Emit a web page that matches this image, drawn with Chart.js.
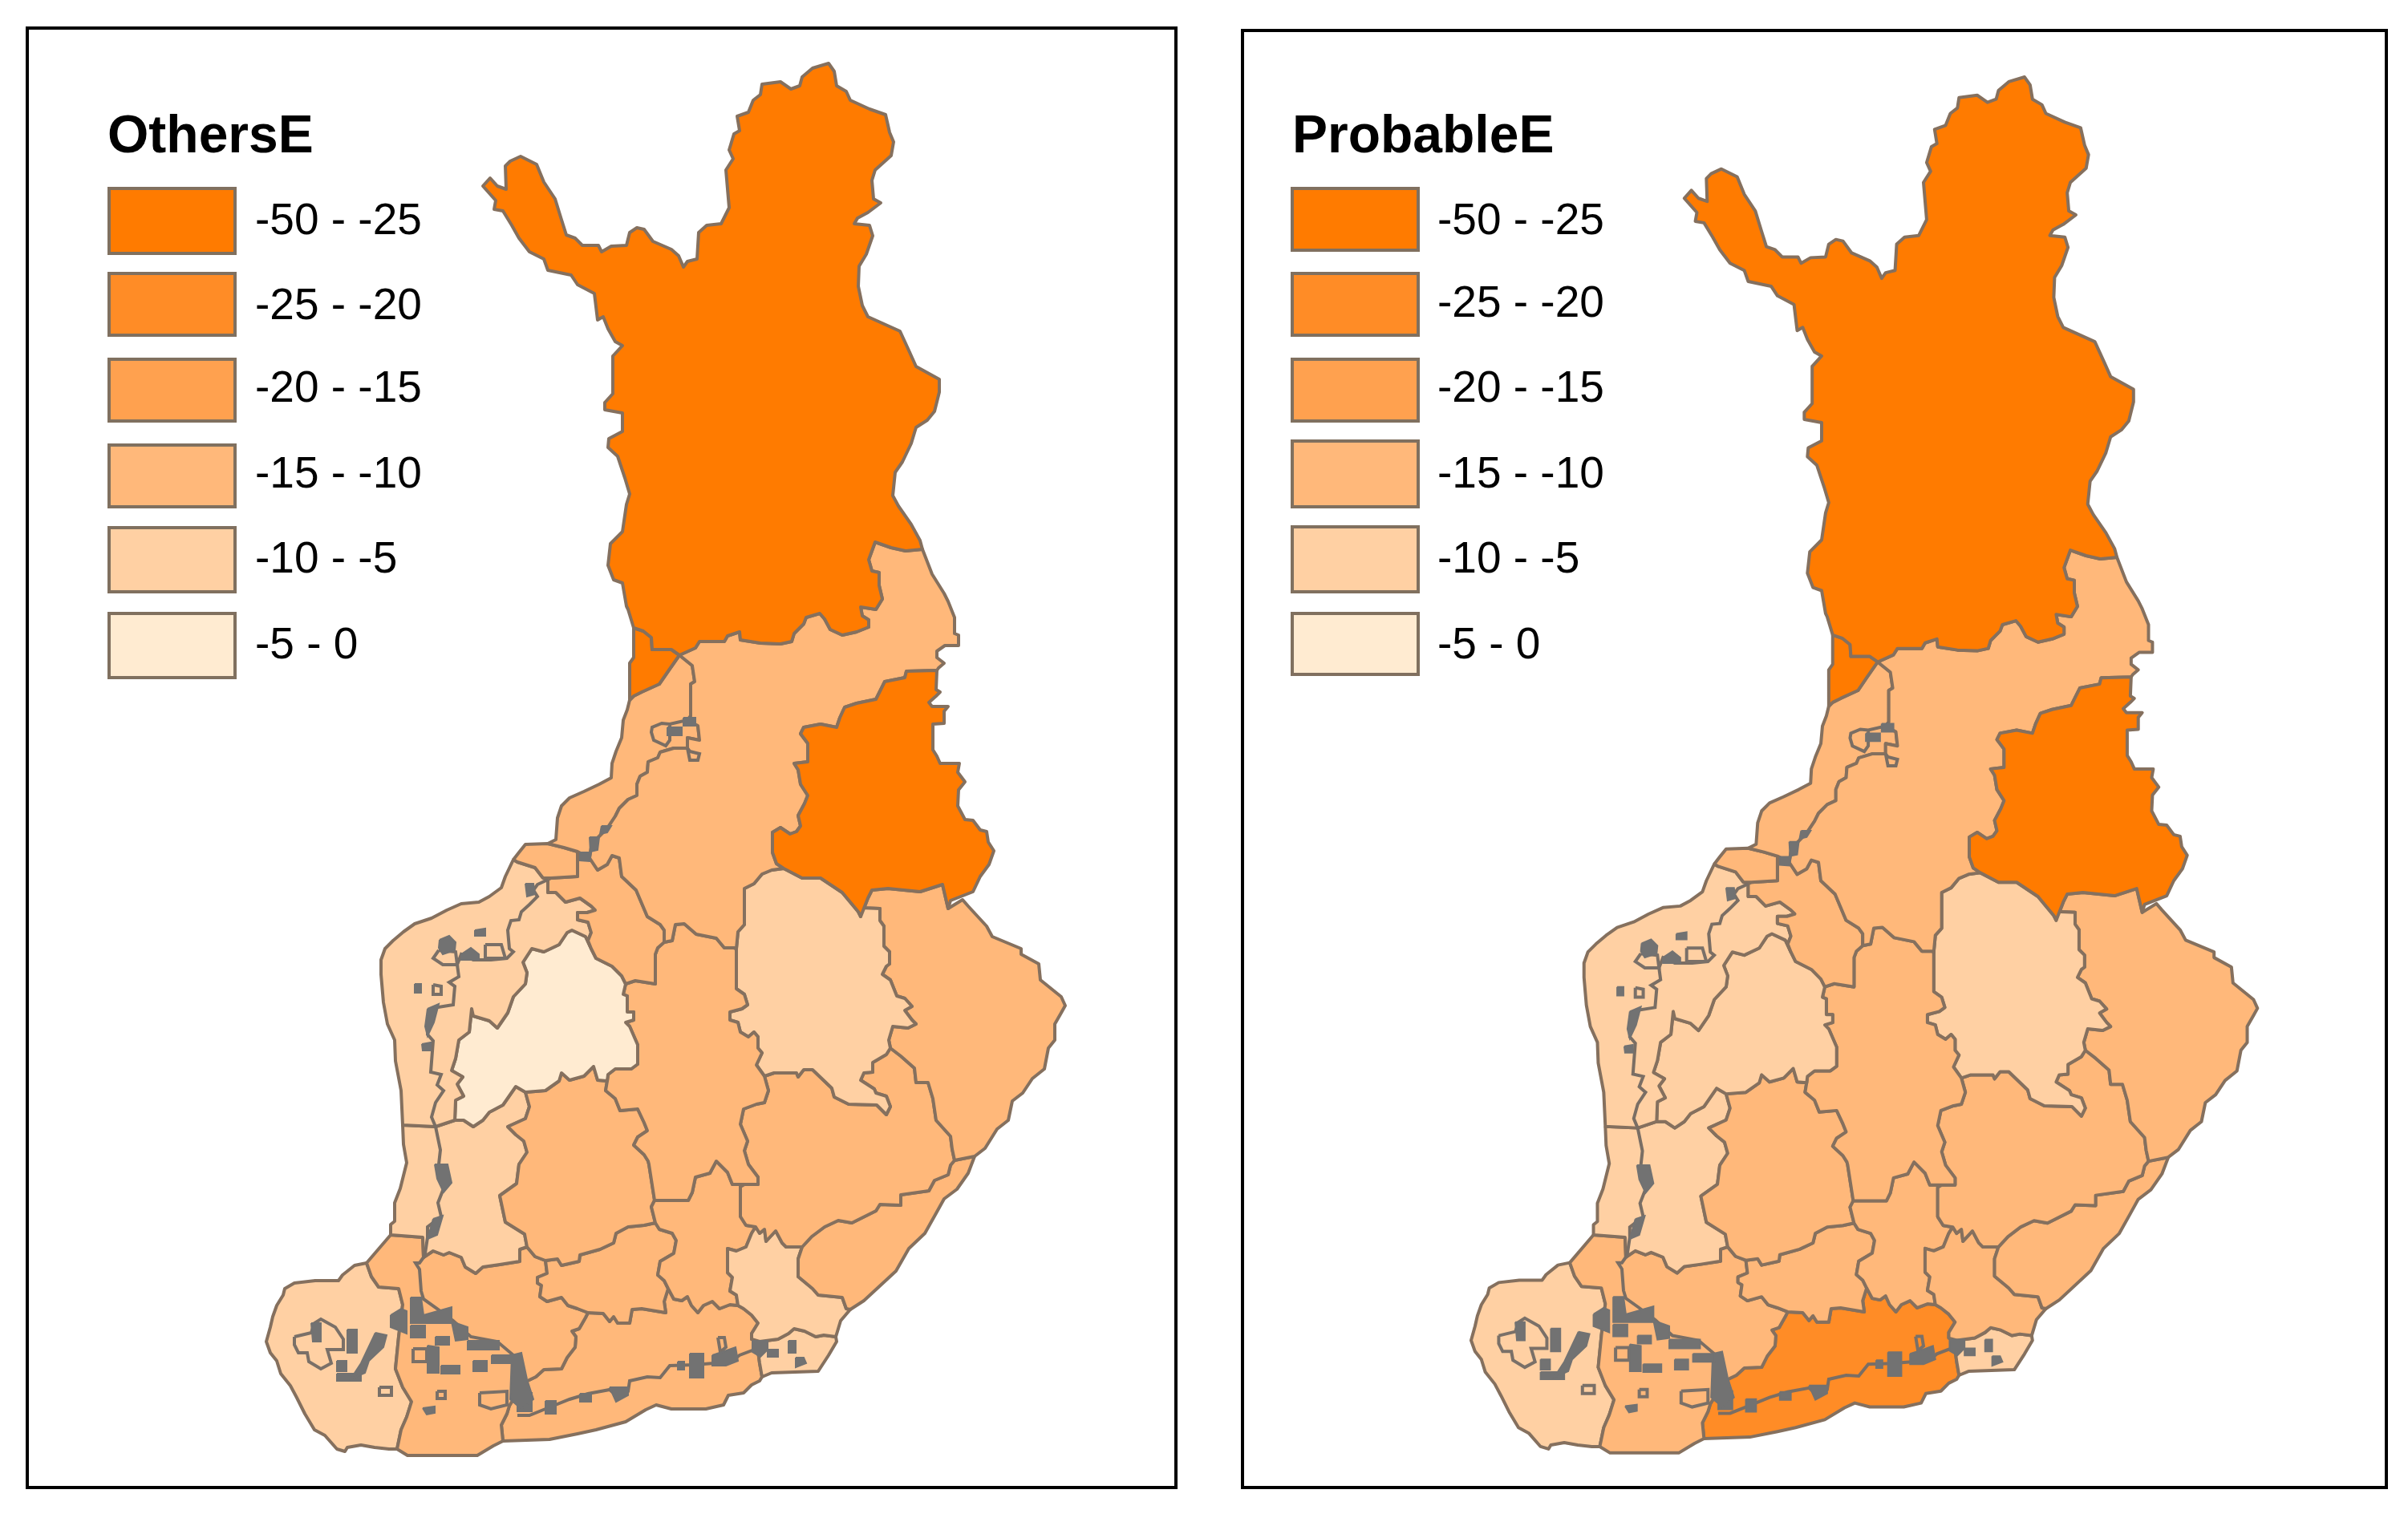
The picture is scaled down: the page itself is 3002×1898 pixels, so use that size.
<!DOCTYPE html>
<html><head><meta charset="utf-8"><title>OthersE and ProbableE</title>
<style>html,body{margin:0;padding:0;background:#fff;width:3002px;height:1898px;overflow:hidden}canvas{position:absolute;display:block}</style>
<script src="https://cdn.jsdelivr.net/npm/chart.js@4"></script></head><body>
<canvas id="left" style="left:30px;top:30px;width:1442px;height:1830px" width="1442" height="1830"></canvas>
<canvas id="right" style="left:1545px;top:30px;width:1435px;height:1830px" width="1435" height="1830"></canvas>
<script>
// Class labels and colours
const classLabels = ['-50 - -25','-25 - -20','-20 - -15','-15 - -10','-10 - -5','-5 - 0'];
const classColors = ['#FF7B00','#FF8C26','#FFA14F','#FFB87A','#FFD0A3','#FFEBD1'];

// Shared borders, x,y pairs in map units
const lapSouth=[1150,685,1129,687,1111,683,1091,676,1083,698,1087,712,1096,714,1096,730,1100,747,1092,760,1073,757,1075,768,1083,773,1083,782,1068,788,1050,792,1035,785,1028,772,1022,765,1005,770,1002,778,990,790,987,800,973,803,948,802,923,798,922,788,907,793,903,800,872,800,867,808,847,817];
const lapNorthEast=[1150,685,1147,674,1136,654,1120,631,1113,618,1116,589,1125,576,1136,553,1142,533,1156,524,1165,513,1171,489,1171,473,1142,457,1133,437,1122,413,1082,395,1075,381,1070,357,1071,332,1080,317,1088,294,1084,281,1065,279,1069,272,1082,265,1098,253,1089,248,1087,225,1091,212,1111,194,1114,177,1109,165,1104,143,1084,136,1060,125,1055,114,1043,107,1040,89,1033,79,1013,85,1000,96,997,107,986,111,973,102,950,105,948,118,939,125,933,140,919,145,922,163,915,167,909,187,914,198,905,212,909,259,899,279,881,281,871,290,869,323,857,326,852,333,846,319,837,311,814,301,803,286,794,284,785,290,781,306,762,307,750,314,746,306,726,306,717,297,706,293,700,274,692,248,678,227,669,205,649,195,636,201,630,207,631,236,620,232,611,222,602,232];
const lapWest=[602,232,618,250,616,261,627,263,638,281,647,297,660,314,678,323,683,337,712,343,720,355,741,366,745,399,752,395,758,410,767,426,776,431,764,444,764,491,754,502,754,511,776,515,776,538,759,547,758,558,770,569,779,596,785,616,781,629,776,663,761,678,758,705,765,723,776,727,781,756,783,760,790,783,802,787,812,795,813,810,828,810,837,810,847,817];
const wedgeSW=[847,817,833,837,822,853,800,863,790,868,785,873];
const kainuuWest=[1168,836,1130,837,1128,845,1103,850,1097,862,1092,872,1068,877,1053,882,1047,895,1043,907,1023,903,1002,907,998,915,1007,927,1007,950,990,952,995,960,998,978,1007,992,1003,1002,995,1017,998,1030,993,1037,985,1040,973,1032,963,1038,963,1063,968,1077,977,1083];
const kainuuSouthA=[977,1083,1000,1095,1023,1095,1050,1113,1070,1137,1073,1143];
const kainuuSouthB=[1073,1143,1082,1120,1087,1110,1107,1108,1147,1112,1175,1103,1182,1133];
const kainuuEast=[1182,1133,1185,1123,1213,1112,1222,1093,1233,1078,1239,1061,1232,1050,1230,1037,1222,1035,1213,1023,1203,1022,1194,1005,1195,985,1203,975,1194,963,1196,952,1172,952,1168,943,1163,935,1163,903,1177,902,1177,887,1182,881,1162,881,1158,876,1167,868,1172,863,1167,860,1168,836];
const ouluEast=[1150,685,1162,716,1177,740,1182,750,1190,770,1190,790,1195,792,1195,805,1178,805,1168,812,1168,820,1177,827,1170,833,1168,836];
const savoNorth=[977,1083,962,1085,950,1090,940,1102,928,1108,928,1153,920,1162,918,1183];
const jTop=[918,1183,915,1182,903,1182,893,1170,868,1165,853,1152,842,1153,838,1173,828,1175];
const gNorth=[828,1175,828,1160,823,1153,807,1143,793,1110,775,1093,772,1070,763,1067,757,1078,745,1085,735,1070];
const ouluWest=[735,1070,737,1057,745,1045,757,1033,767,1018,772,1008,783,997,794,992,794,978,798,968,807,963,808,950,820,945,823,938,840,933,857,933,857,920,872,923,870,905,857,898,861,893,861,853,866,850,863,830,847,817];
const stripCoast=[785,873,782,885,777,898,775,920,768,937,763,952,762,970,747,978,728,987,710,995,700,1005,695,1020,693,1047,683,1052];
const kokkolaTop=[683,1052,703,1057,720,1062];
const gWest=[683,1097,683,1113,693,1113,705,1125,723,1120,737,1130,742,1135,732,1138,720,1138,720,1147,733,1150,737,1163,733,1173,737,1183];
const iNW=[567,1397,568,1372,578,1367,570,1352,577,1343,563,1335,568,1320,572,1297,585,1287,588,1258,590,1267,610,1273,620,1282,633,1263,640,1243,655,1227,657,1213,652,1200,663,1183,678,1187,697,1178,707,1163,713,1160,730,1168,737,1183];
const iNorth=[737,1183,743,1195,763,1205,775,1217,780,1227];
const gSouth=[780,1227,792,1223,817,1227,817,1190,820,1182,828,1175];
const iEast=[780,1227,777,1240,782,1242,782,1262,790,1262,790,1272,780,1275,785,1280,795,1303,795,1327,787,1333,767,1333,758,1340,757,1348];
const iSouth=[757,1348,745,1347,740,1330,728,1342,710,1347,700,1338,697,1348,680,1360,655,1362];
const iSW=[655,1362,643,1355,627,1378,610,1387,602,1397,590,1405,578,1397,567,1397];
const savoWest=[918,1183,918,1233,928,1240,932,1253,925,1258,910,1262,910,1272,920,1275,923,1287,933,1293,940,1287,945,1293,945,1307,950,1313,943,1328,953,1342];
const mWest=[953,1342,958,1360,953,1375,943,1377,927,1383,923,1402,932,1423,928,1435,933,1452,945,1468,945,1477,928,1477];
const pNorth=[928,1477,923,1477,913,1477,907,1462,893,1448,885,1463,867,1468,863,1487,858,1497,816,1497];
const qEast=[757,1348,755,1360,767,1370,773,1385,795,1383,803,1400,807,1410,795,1418,790,1428,803,1440,808,1448,809,1452,816,1497];
const qWest=[655,1362,660,1380,655,1395,633,1405,643,1415,653,1423,657,1437,647,1452,644,1476,623,1491,630,1524,654,1539,657,1555];
const qSouthA=[657,1555,667,1567,680,1572];
const qSouthB=[680,1572,695,1570,700,1578,722,1573,723,1565,748,1558,765,1550,768,1538,783,1530,803,1528,817,1525];
const pWestTop=[817,1525,812,1505,816,1497];
const mEastP=[928,1477,923,1480,923,1517,930,1528,942,1530];
const oTopWest=[942,1530,937,1538,930,1555,918,1560,907,1557,907,1587,913,1593,910,1610,918,1615,920,1628];
const pSouth=[920,1628,910,1627,897,1632,888,1623,877,1628,870,1637,862,1628,857,1617,850,1622,840,1620,833,1607];
const sEast=[833,1607,828,1597,820,1590,823,1573,840,1563,843,1547,838,1538,822,1533,817,1525];
const sSouth=[833,1607,828,1623,830,1637,800,1632,788,1633,785,1650,770,1650,765,1642,760,1648,752,1638,733,1637];
const sWest=[733,1637,720,1632,708,1628,700,1618,682,1623,673,1617,675,1603,670,1600,670,1593,682,1588,680,1572];
const tEastLow=[733,1637,730,1643,722,1657,713,1660,718,1667,717,1680,707,1693,700,1707,678,1708,668,1717,645,1728];
const tSouthEast=[645,1728,640,1745,635,1753,632,1763,625,1777,627,1797];
const mBottom=[942,1530,947,1538,953,1533,955,1548,967,1535,975,1550,980,1555,1000,1555];
const mSE=[1000,1555,1012,1542,1028,1530,1045,1522,1062,1525,1092,1510,1097,1502,1123,1503,1123,1490,1158,1485,1165,1472,1182,1465,1185,1453,1190,1447];
const lmBorder=[1110,1307,1123,1317,1140,1332,1142,1350,1157,1350,1163,1370,1167,1397,1185,1417,1187,1433,1190,1447];
const kSouth=[953,1342,965,1338,993,1338,995,1343,1002,1334,1013,1334,1037,1357,1040,1368,1058,1377,1093,1378,1105,1390,1110,1380,1105,1367,1092,1363,1090,1358,1073,1347,1077,1338,1088,1337,1088,1325,1105,1315,1110,1307];
const klBorder=[1110,1307,1108,1297,1113,1280,1132,1282,1142,1277,1137,1272,1128,1260,1137,1255,1128,1245,1118,1242,1110,1222,1100,1215,1105,1205,1109,1202,1109,1187,1102,1180,1102,1155,1097,1148,1097,1133,1073,1132,1073,1143];
const lCoast=[1190,1447,1215,1442,1228,1432,1243,1408,1257,1397,1262,1373,1275,1363,1287,1345,1302,1333,1307,1307,1315,1297,1315,1277,1323,1263,1328,1254,1323,1243,1297,1222,1295,1202,1273,1190,1273,1183,1237,1168,1230,1155,1207,1130,1200,1122,1182,1133];
const nWest=[1000,1555,995,1570,995,1592,1013,1607,1020,1615,1050,1618,1055,1632,1060,1633];
const nCoast=[1060,1633,1077,1622,1117,1585,1133,1557,1153,1538,1167,1513,1177,1495,1193,1483,1207,1463,1215,1442];
const kymiLine=[1042,1667,1027,1665,1017,1667,1003,1660,990,1657,983,1663,970,1670,947,1673];
const kymiEast=[1060,1633,1048,1647,1042,1667];
const vEastLand=[920,1628,927,1632,937,1640,945,1650,937,1663,937,1670,947,1673];
const vCoastOuter=[950,1717,947,1722,937,1727,927,1737,908,1740,902,1752,880,1757,837,1757,818,1752,805,1758,780,1773,743,1783,720,1788,685,1795,627,1797];
const oMid=[947,1673,945,1685,947,1700,950,1717];
const hWestCoast=[502,1403,500,1360,493,1323,492,1297,483,1277,478,1250,475,1215,475,1197,480,1183,490,1173,503,1162,517,1152,538,1145,557,1135,575,1127,597,1125,610,1118,625,1107,630,1093,640,1072];
const rSeaCoast=[502,1403,503,1427,507,1450,499,1482,492,1500,492,1523,487,1527,487,1540];
const rSouth=[657,1555,648,1558,648,1573,623,1577,602,1580,593,1588,580,1580,575,1568,560,1562,553,1565,540,1560,528,1568,527,1543,487,1540];
const tWestBorder=[627,1797,615,1803,595,1815,508,1815,495,1807,500,1783,507,1767,513,1748,502,1730,493,1707,497,1667,502,1627,497,1607,472,1605,463,1592,457,1575];
const alandOuter=[457,1575,442,1578,427,1590,422,1597,393,1597,367,1600,355,1607,353,1615,345,1628,340,1642,337,1655,332,1673,337,1687,345,1697,350,1713,362,1728,370,1743,380,1763,392,1783,405,1790,420,1807,430,1810,433,1805,450,1802,467,1805,485,1807,495,1807];

const rev = s => { const o=[]; for(let i=s.length-2;i>=0;i-=2) o.push(s[i],s[i+1]); return o; };
const path = (...segs) => segs.flat();

// Regions
const regionNames = ['Lappi','Kemi','Kainuu','Pohjois-Pohjanmaa','Oulun rannikko','Kokkola','Keski-Pohjanmaa','Pohjanmaa','Etelä-Pohjanmaa','Keski-Suomi','Pohjois-Savo','Pohjois-Karjala','Etelä-Savo','Etelä-Karjala','Kymenlaakso','Kymen rannikko','Päijät-Häme','Pirkanmaa','Satakunta','Kanta-Häme','Varsinais-Suomi','Ahvenanmaa','Uusimaa'];
const regionShapes = [
  path(lapNorthEast,lapWest,rev(lapSouth)),
  path(wedgeSW,[785,827,790,820,790,793,790,783,802,787,812,795,813,810,828,810,837,810,847,817]),
  path(kainuuWest,kainuuSouthA,kainuuSouthB,kainuuEast),
  path(rev(lapSouth),ouluEast,kainuuWest,savoNorth,jTop,gNorth,ouluWest),
  path(ouluWest,wedgeSW,stripCoast,kokkolaTop,[735,1070]),
  path([640,1072,647,1063,655,1053],kokkolaTop,[720,1093,687,1095,677,1095,667,1082,645,1075,640,1072]),
  path([735,1070,720,1062,720,1093,687,1095],gWest,iNorth,gSouth,gNorth),
  path([677,1095],gWest,rev(iNW),[543,1405],hWestCoast,[645,1075,667,1082,677,1095]),
  path(iNW,iNorth,iEast,iSouth,iSW),
  path(gSouth,rev(jTop),savoWest,mWest,pNorth,rev(qEast),rev(iEast)),
  path(savoNorth,savoWest,kSouth,klBorder,rev(kainuuSouthA)),
  path(rev(klBorder),lmBorder,lCoast,rev(kainuuSouthB)),
  path(mWest,mEastP,mBottom,mSE,rev(lmBorder),rev(kSouth)),
  path(rev(mSE),nWest,nCoast,[1190,1447]),
  path(mBottom,nWest,kymiEast,kymiLine,rev(vEastLand),rev(oTopWest)),
  path(kymiLine,oMid,[962,1712,1020,1710,1033,1690,1043,1673,1042,1667]),
  path(rev(pNorth),mEastP,oTopWest,pSouth,sEast,pWestTop),
  path(iSouth,qWest,qSouthA,qSouthB,pWestTop,rev(qEast)),
  path([502,1403,543,1405],rev(iSW),qWest,rSouth,rev(rSeaCoast)),
  path(qSouthB,rev(sEast),sSouth,sWest),
  path([487,1540],rev(rSouth),qSouthA,rev(sWest),tEastLow,tSouthEast,tWestBorder,[487,1540]),
  path(alandOuter,tWestBorder.slice(10)),
  path(tEastLow.slice(-2),rev(tEastLow),rev(sSouth),rev(pSouth),vEastLand,oMid,vCoastOuter,rev(tSouthEast))
];
// Class index of each region in each panel
const othersClass   = [0,0,0,3,3,3,3,4,5,3,4,3,3,3,4,4,3,3,4,3,3,4,3];
const probableClass = [0,0,0,3,3,3,3,4,4,3,4,3,3,3,3,4,3,3,4,3,3,4,1];

// Coastline traces and islands
const coastLines = [
  [683,1097,670,1103,665,1110,670,1118,660,1128,650,1137,647,1147,637,1148,633,1160,635,1183,640,1187,632,1195,612,1197,590,1197,575,1190,570,1203,572,1218,560,1225,567,1230,565,1253,540,1257,533,1273,533,1290,540,1298,537,1337,550,1340,545,1353,553,1360,543,1375,538,1393,543,1405],
  [543,1405,549,1434,547,1452,553,1482,546,1500,550,1517,533,1530,533,1543,530,1563,528,1568],
  [528,1568,523,1575,518,1575,523,1583,525,1610,528,1620,545,1632,565,1647,587,1667,620,1673,640,1690,645,1728],
  [645,1765,660,1765,680,1757,710,1745,733,1738,760,1733,768,1740,783,1735,785,1722,807,1717,823,1718,835,1703,865,1702,890,1700,913,1697,922,1690,943,1682,947,1673],
  [861,893,857,898,835,903,825,902,813,907,812,913,815,923,830,930,835,923,835,903],
  [857,933,860,937,872,940,870,948,860,948,857,933]
];
const islandRings = [
  [367,1667,388,1662,392,1650,400,1645,418,1655,428,1670,428,1683,408,1683,413,1700,400,1707,385,1698,383,1687,372,1687,367,1677,367,1667],
  [473,1730,488,1730,488,1740,473,1740,473,1730],
  [545,1735,555,1735,555,1744,545,1744,545,1735],
  [515,1682,532,1682,532,1698,515,1698,515,1682],
  [598,1737,632,1735,632,1752,612,1757,598,1752,598,1737],
  [540,1228,550,1230,550,1240,540,1240,540,1228],
  [605,1178,625,1178,630,1195,605,1195,605,1178],
  [547,1185,568,1187,570,1203,552,1203,540,1195,547,1185],
  [895,1668,903,1668,905,1680,898,1686,895,1668]
];
const islandBlobs = [
  [548,1172,560,1167,568,1175,567,1185,552,1190,547,1182],
  [575,1190,587,1182,597,1190,597,1197,575,1197],
  [592,1160,605,1158,605,1167,592,1167],
  [517,1227,525,1227,525,1238,517,1238],
  [533,1258,547,1252,541,1275,533,1292,530,1280],
  [526,1302,537,1300,537,1310,527,1310],
  [655,1102,665,1102,667,1115,657,1118],
  [542,1452,558,1452,563,1475,553,1487,545,1470],
  [540,1520,552,1516,545,1540,533,1545],
  [750,1030,762,1030,757,1038,748,1040],
  [735,1044,747,1044,745,1060,736,1062],
  [723,1063,737,1063,735,1074,723,1073],
  [832,907,850,907,850,917,832,917],
  [852,895,867,895,867,905,852,905],
  [388,1650,400,1650,400,1673,390,1673],
  [433,1658,445,1658,445,1687,433,1687],
  [468,1662,482,1665,478,1680,460,1697,455,1712,437,1720,450,1700],
  [420,1713,450,1713,450,1722,420,1722],
  [420,1697,432,1697,432,1710,420,1710],
  [487,1640,500,1632,507,1635,507,1663,487,1655],
  [512,1618,525,1618,528,1640,563,1630,563,1650,512,1650],
  [512,1653,530,1653,530,1668,512,1668],
  [533,1678,547,1680,547,1712,533,1712],
  [550,1703,573,1703,573,1713,550,1713],
  [543,1667,560,1667,560,1677,543,1677],
  [563,1648,583,1655,583,1670,568,1672],
  [583,1672,622,1672,622,1683,583,1683],
  [590,1697,607,1697,607,1710,590,1710],
  [613,1690,640,1690,640,1700,613,1700],
  [638,1690,650,1687,657,1720,665,1745,650,1757,636,1745],
  [645,1737,663,1737,663,1760,645,1760],
  [527,1756,542,1754,542,1762,532,1764],
  [938,1672,957,1672,957,1683,948,1692,938,1686],
  [957,1683,970,1683,970,1692,957,1692],
  [983,1672,992,1672,992,1687,983,1687],
  [992,1693,1002,1693,1005,1700,992,1705],
  [888,1690,903,1685,917,1680,920,1697,905,1703,888,1703],
  [860,1688,877,1688,877,1718,860,1718],
  [845,1698,853,1698,853,1708,845,1708],
  [680,1747,693,1747,693,1763,680,1763],
  [723,1738,737,1738,737,1748,723,1748],
  [760,1730,783,1730,783,1740,768,1748]
];

const panels = [
  { id:'left',  title:'OthersE',   classes:othersClass,   xRange:[30,1472],    yRange:[30,1860],
    frame:[4,5,1432,1820], titleXY:[104,142], boxX:[106,263], boxY:[[205,286],[311,388],[418,495],[525,602],[628,708],[735,815]], labelX:288, labelY:[247,353,456,563,669,776] },
  { id:'right', title:'ProbableE', classes:probableClass, xRange:[38.4,1496.3],yRange:[12.2,1863.7],
    frame:[4,8,1426,1817], titleXY:[66,142], boxX:[66,223], boxY:[[205,282],[311,388],[418,495],[520,602],[627,708],[735,811]], labelX:247, labelY:[247,350,456,563,669,776] }
];

const toPoints = s => { const p=[]; for(let i=0;i<s.length;i+=2) p.push({x:s[i],y:s[i+1]}); if(s.length) p.push({x:s[0],y:s[1]}); return p; };
const openPoints = s => { const p=[]; for(let i=0;i<s.length;i+=2) p.push({x:s[i],y:s[i+1]}); return p; };
const legendPlugin = {
  id:'mapLegend',
  afterDraw(chart){
    const c=chart.ctx, o=chart.options.plugins.mapLegend;
    c.save();
    c.strokeStyle='#000'; c.lineWidth=4; c.strokeRect(...o.frame);
    c.fillStyle='#000'; c.textBaseline='middle'; c.textAlign='left';
    c.font='bold 66px "Liberation Sans"'; c.fillText(o.title,o.titleXY[0],o.titleXY[1]);
    c.font='55px "Liberation Sans"';
    classLabels.forEach((t,i)=>{
      const [y0,y1]=o.boxY[i];
      c.fillStyle=classColors[i]; c.fillRect(o.boxX[0],y0,o.boxX[1]-o.boxX[0],y1-y0);
      c.strokeStyle='#80705F'; c.lineWidth=4; c.strokeRect(o.boxX[0],y0,o.boxX[1]-o.boxX[0],y1-y0);
      c.fillStyle='#000'; c.fillText(t,o.labelX,o.labelY[i]);
    });
    c.restore();
  }
};
panels.forEach(p=>{
  const ds=[];
  // Chart.js paints dataset 0 last, so marks on top are listed first.
  islandBlobs.forEach((s,i)=>ds.push({label:'isle'+i,data:toPoints(s),showLine:true,pointRadius:0,tension:0,fill:'shape',
    backgroundColor:'#727272',borderColor:'#727272',borderWidth:2}));
  islandRings.forEach((s,i)=>ds.push({label:'ring'+i,data:openPoints(s),showLine:true,pointRadius:0,tension:0,fill:false,borderColor:'#7A7068',borderWidth:4}));
  coastLines.forEach((s,i)=>ds.push({label:'coast'+i,data:openPoints(s),showLine:true,pointRadius:0,tension:0,fill:false,borderColor:'#7A6E64',borderWidth:4}));
  regionShapes.forEach((s,i)=>ds.push({label:regionNames[i],data:toPoints(s),showLine:true,pointRadius:0,tension:0,fill:'shape',
    backgroundColor:classColors[p.classes[i]],borderColor:'#85705E',borderWidth:4,borderJoinStyle:'round'}));
  new Chart(document.getElementById(p.id),{type:'scatter',data:{datasets:ds},plugins:[legendPlugin],options:{
    responsive:false,animation:false,devicePixelRatio:1,layout:{padding:0},
    scales:{x:{type:'linear',display:false,min:p.xRange[0],max:p.xRange[1]},y:{type:'linear',display:false,reverse:true,min:p.yRange[0],max:p.yRange[1]}},
    plugins:{legend:{display:false},tooltip:{enabled:false},mapLegend:{title:p.title,frame:p.frame,titleXY:p.titleXY,boxX:p.boxX,boxY:p.boxY,labelX:p.labelX,labelY:p.labelY}}
  }});
});
</script></body></html>
